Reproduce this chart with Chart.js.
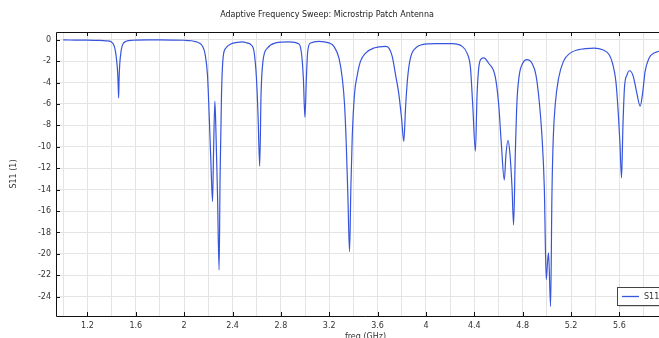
<!DOCTYPE html>
<html>
<head>
<meta charset="utf-8">
<script src="https://cdn.jsdelivr.net/npm/chart.js@4.4.1/dist/chart.umd.min.js"></script>
<style>
  html, body { margin: 0; padding: 0; background: #fff; overflow: hidden; }
  #wrap { width: 700px; height: 350px; }
</style>
</head>
<body>
<div id="wrap"><canvas id="myChart" width="700" height="350"></canvas></div>
<script>
const chartTitle = 'Adaptive Frequency Sweep: Microstrip Patch Antenna';
const seriesName = 'S11';

// freq (GHz) / S11 values
const freq = [
  1.00, 1.10, 1.20, 1.30, 1.354, 1.395, 1.422, 1.436, 1.447, 1.453, 1.458, 1.462, 1.467, 1.478, 1.491, 1.519, 1.574,
  1.70, 1.80, 1.90, 2.00, 2.06, 2.10, 2.124, 2.152, 2.174, 2.193, 2.207, 2.221, 2.235, 2.243, 2.254, 2.262, 2.276,
  2.289, 2.297, 2.309, 2.322, 2.344, 2.386, 2.44, 2.483, 2.52, 2.551, 2.578, 2.598, 2.611, 2.625, 2.636, 2.652,
  2.689, 2.757, 2.867, 2.95, 2.972, 2.986, 2.999, 3.011, 3.022, 3.046, 3.115, 3.197, 3.239, 3.28, 3.308, 3.327,
  3.341, 3.354, 3.368, 3.379, 3.39, 3.409, 3.432, 3.459, 3.501, 3.569, 3.666, 3.694, 3.721, 3.749, 3.776, 3.798,
  3.817, 3.831, 3.848, 3.872, 3.914, 3.969, 4.079, 4.217, 4.299, 4.34, 4.368, 4.387, 4.409, 4.423, 4.437, 4.459,
  4.478, 4.519, 4.574, 4.602, 4.624, 4.648, 4.662, 4.679, 4.695, 4.712, 4.725, 4.739, 4.753, 4.772, 4.80, 4.835,
  4.877, 4.91, 4.937, 4.959, 4.979, 4.995, 5.006, 5.014, 5.031, 5.042, 5.053, 5.069, 5.097, 5.138, 5.193, 5.262,
  5.317, 5.392, 5.461, 5.516, 5.543, 5.571, 5.59, 5.604, 5.618, 5.629, 5.642, 5.662, 5.686, 5.714, 5.741, 5.772,
  5.791, 5.813, 5.846, 5.887, 5.92, 5.96, 6.00,
];
const s11 = [
  -0.02, -0.03, -0.04, -0.07, -0.1, -0.18, -0.6, -1.4, -2.6, -3.8, -5.44, -3.6, -2.3, -1.1, -0.46, -0.15, -0.05,
  -0.02, -0.02, -0.03, -0.05, -0.1, -0.2, -0.3, -0.62, -1.4, -3.3, -7.0, -11.4, -15.1, -10.6, -5.75, -8.2, -14.5,
  -21.5, -12.9, -5.1, -1.7, -0.8, -0.4, -0.25, -0.2, -0.3, -0.45, -1.1, -3.6, -7.0, -11.8, -5.1, -2.0,
  -0.78, -0.3, -0.2, -0.4, -1.4, -3.6, -7.25, -3.6, -1.1, -0.3, -0.15, -0.3, -0.62, -1.7, -3.6, -6.1,
  -9.8, -14.5, -19.8, -13.8, -9.2, -5.1, -3.3, -2.0, -1.25, -0.78, -0.62, -0.78, -1.55, -3.3, -5.1, -7.3,
  -9.5, -6.4, -3.6, -1.7, -0.78, -0.46, -0.37, -0.37, -0.62, -1.25, -2.6, -6.1, -10.4, -5.1, -2.6, -1.77,
  -1.7, -2.2, -3.5, -6.1, -9.8, -13.1, -10.7, -9.4, -10.7, -13.8, -17.3, -10.7, -5.75, -3.3, -2.2, -1.86,
  -2.2, -3.3, -5.75, -8.9, -13.8, -22.4, -20.7, -19.9, -24.9, -14.5, -9.2, -6.1, -3.6, -2.0, -1.25, -0.93,
  -0.84, -0.78, -0.93, -1.4, -2.2, -3.9, -6.7, -9.5, -12.9, -8.2, -4.5, -3.3, -2.9, -3.4, -4.8, -6.2,
  -5.1, -2.95, -1.7, -1.25, -1.1, -0.95, -0.85,
];

const xGrid = [1.0, 1.2, 1.4, 1.6, 1.8, 2.0, 2.2, 2.4, 2.6, 2.8, 3.0, 3.2, 3.4, 3.6, 3.8, 4.0, 4.2, 4.4, 4.6, 4.8, 5.0, 5.2, 5.4, 5.6, 5.8, 6.0];
const xTickLabels = [1.2, 1.6, 2.0, 2.4, 2.8, 3.2, 3.6, 4.0, 4.4, 4.8, 5.2, 5.6, 6.0];
const yTicks = [0, -2, -4, -6, -8, -10, -12, -14, -16, -18, -20, -22, -24];

const lineColor = 'rgb(55, 85, 220)';

Chart.defaults.font.family = 'DejaVu Sans';
Chart.defaults.font.size = 8;
Chart.defaults.color = '#333';

// frame, inward tick marks, title and legend box
const decorations = {
  id: 'decorations',
  afterDraw(chart) {
    const { ctx, chartArea: a, scales: { x, y } } = chart;
    ctx.save();
    ctx.strokeStyle = '#111';
    ctx.lineWidth = 1;
    ctx.beginPath();
    ctx.moveTo(a.right, a.top + 0.5);
    ctx.lineTo(a.left + 0.5, a.top + 0.5);
    ctx.lineTo(a.left + 0.5, a.bottom + 0.5);
    ctx.lineTo(a.right, a.bottom + 0.5);
    xTickLabels.forEach((v) => {
      const px = Math.round(x.getPixelForValue(v)) + 0.5;
      ctx.moveTo(px, a.bottom);
      ctx.lineTo(px, a.bottom - 4);
      ctx.moveTo(px, a.top);
      ctx.lineTo(px, a.top + 4);
    });
    yTicks.forEach((v) => {
      const py = Math.round(y.getPixelForValue(v)) + 0.5;
      ctx.moveTo(a.left, py);
      ctx.lineTo(a.left + 4, py);
    });
    ctx.stroke();

    // title
    ctx.fillStyle = '#222';
    ctx.font = '8px "DejaVu Sans"';
    ctx.textAlign = 'center';
    ctx.textBaseline = 'middle';
    ctx.fillText(chartTitle, 327, 15);

    // legend
    ctx.fillStyle = 'rgba(0,0,0,0.15)';
    ctx.fillRect(619, 289, 80, 18);
    ctx.fillStyle = '#fff';
    ctx.fillRect(617, 287, 80, 18);
    ctx.strokeStyle = '#444';
    ctx.strokeRect(617.5, 287.5, 80, 18);
    ctx.strokeStyle = lineColor;
    ctx.lineWidth = 1.3;
    ctx.beginPath();
    ctx.moveTo(622, 296.5);
    ctx.lineTo(639, 296.5);
    ctx.stroke();
    ctx.fillStyle = '#333';
    ctx.textAlign = 'left';
    ctx.fillText(seriesName, 644, 297);
    ctx.restore();
  },
};

const ctx = document.getElementById('myChart');
const chart = new Chart(ctx, {
  type: 'line',
  data: {
    datasets: [
      {
        label: seriesName,
        data: freq.map((f, i) => ({ x: f, y: s11[i] })),
        borderColor: lineColor,
        borderWidth: 1.2,
        pointRadius: 0,
        cubicInterpolationMode: 'monotone',
        fill: false,
      },
    ],
  },
  options: {
    responsive: false,
    animation: false,
    layout: {
      padding: { left: 0, top: 32, right: 25, bottom: 0 },
    },
    plugins: {
      legend: { display: false },
      tooltip: { enabled: false },
    },
    scales: {
      x: {
        type: 'linear',
        min: 0.94,
        max: 6.06,
        afterBuildTicks: (scale) => {
          scale.ticks = xGrid.map((v) => ({ value: v }));
        },
        afterFit: (scale) => {
          scale.height = 34;
        },
        ticks: {
          autoSkip: false,
          maxRotation: 0,
          padding: 5,
          callback: (value) => (xTickLabels.some((t) => Math.abs(t - value) < 1e-6) ? String(Math.round(value * 10) / 10) : ''),
        },
        grid: { color: '#e4e4e4', drawTicks: false },
        border: { display: false },
        title: { display: true, text: 'freq (GHz)', padding: { top: 0, bottom: 8 } },
      },
      y: {
        type: 'linear',
        min: -25.8,
        max: 0.72,
        afterBuildTicks: (scale) => {
          scale.ticks = yTicks.map((v) => ({ value: v }));
        },
        afterFit: (scale) => {
          scale.width = 56;
        },
        ticks: {
          padding: 5,
          callback: (value) => String(value),
        },
        grid: { color: '#e4e4e4', drawTicks: false },
        border: { display: false },
        title: { display: true, text: 'S11 (1)', padding: { top: 9, bottom: 0 } },
      },
    },
  },
  plugins: [decorations],
});
</script>
</body>
</html>
